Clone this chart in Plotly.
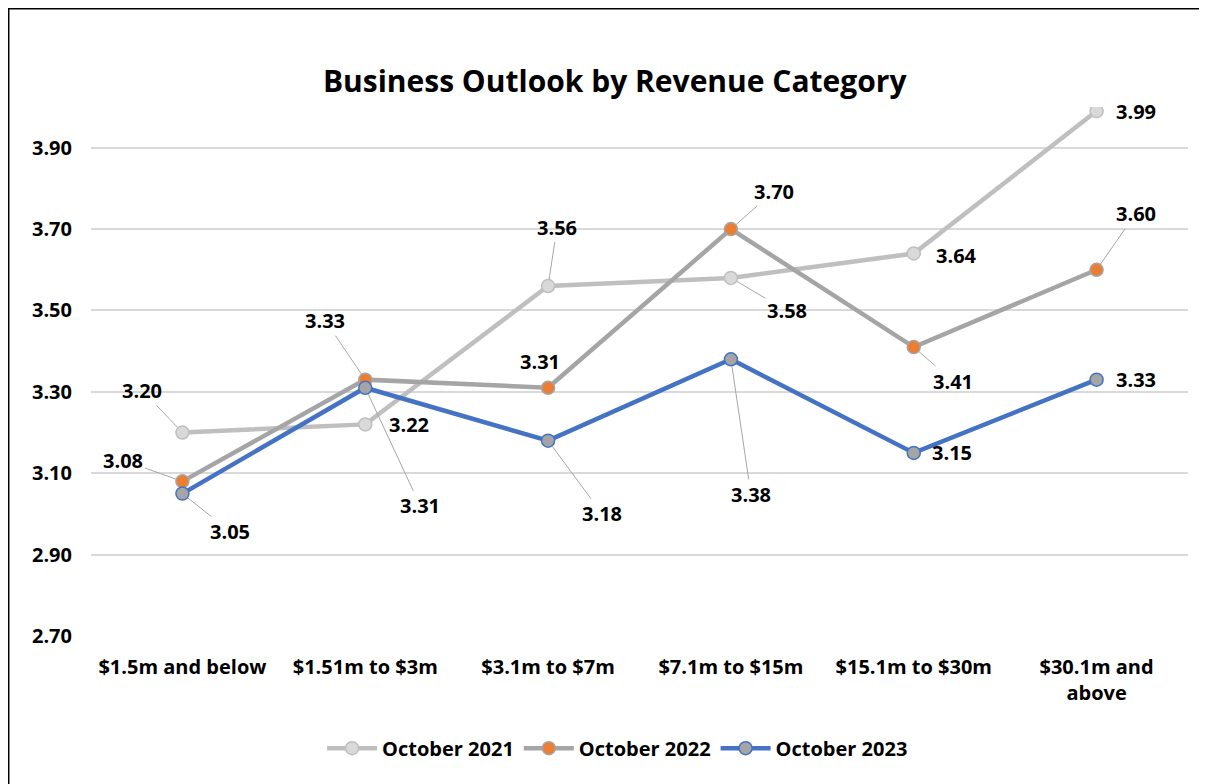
import plotly.graph_objects as go

# categorie e valori
categories = ["$1.5m and below", "$1.51m to $3m", "$3.1m to $7m",
              "$7.1m to $15m", "$15.1m to $30m", "$30.1m and<br>above"]
oct_2021 = [3.20, 3.22, 3.56, 3.58, 3.64, 3.99]
oct_2022 = [3.08, 3.33, 3.31, 3.70, 3.41, 3.60]
oct_2023 = [3.05, 3.31, 3.18, 3.38, 3.15, 3.33]
y_ticks = [2.70, 2.90, 3.10, 3.30, 3.50, 3.70, 3.90]

FONT = "Open Sans"

# stile di ogni serie: (nome, valori, colore linea, riempimento marker, bordo marker)
series = [
    ("October 2021", oct_2021, "#bfbfbf", "#d9d9d9", "#bfbfbf"),
    ("October 2022", oct_2022, "#a5a5a5", "#ed7d31", "#a5a5a5"),
    ("October 2023", oct_2023, "#4472c4", "#a5a5a5", "#4472c4"),
]

# spostamenti (px) delle etichette rispetto al punto, True = con linea guida
label_offsets = {
    "October 2021": [(-40, -42, True), (44, 0, False), (9, -59, True),
                     (56, 33, True), (43, 2, False), (39, 0, False)],
    "October 2022": [(-59, -21, True), (-40, -59, True), (-8, -26, False),
                     (43, -38, True), (39, 34, True), (39, -56, True)],
    "October 2023": [(48, 38, True), (55, 118, True), (54, 73, True),
                     (20, 135, True), (38, 0, False), (39, 0, False)],
}

bold = dict(family=FONT, size=20, color="black", weight="bold")

fig = go.Figure()
annotations = []
for name, vals, line_col, fill_col, edge_col in series:
    fig.add_trace(go.Scatter(
        x=categories, y=vals, name=name, mode="lines+markers",
        line=dict(color=line_col, width=4.5),
        marker=dict(size=13, color=fill_col, line=dict(color=edge_col, width=1.5)),
    ))
    for cat, v, (dx, dy, leader) in zip(categories, vals, label_offsets[name]):
        annotations.append(dict(
            x=cat, y=v, text=f"{v:.2f}", showarrow=True,
            ax=dx, ay=dy, axref="pixel", ayref="pixel",
            arrowhead=0, arrowwidth=1, standoff=7,
            arrowcolor="#a6a6a6" if leader else "rgba(0,0,0,0)",
            font=bold,
        ))

fig.update_layout(
    width=1199, height=776,
    paper_bgcolor="white", plot_bgcolor="white",
    margin=dict(l=83, r=19, t=99, b=148),
    title=dict(text="Business Outlook by Revenue Category",
               x=0.506, xanchor="center", y=0.905, yanchor="middle",
               font=dict(family=FONT, size=30, color="black", weight="bold")),
    font=dict(family=FONT, size=20, color="black"),
    showlegend=True,
    legend=dict(orientation="h", x=0.48, xanchor="center", y=-0.212, yanchor="middle",
                font=bold, itemwidth=50),
    annotations=annotations,
    shapes=[dict(type="rect", xref="paper", yref="paper",
                 x0=-0.075, x1=1.05, y0=1.1857, y1=-0.4,
                 line=dict(color="black", width=1.5), fillcolor="rgba(0,0,0,0)")],
)
fig.update_xaxes(type="category", range=[-0.5, 5.5], showgrid=False, zeroline=False,
                 showline=False, ticks="", ticklabelstandoff=17, tickfont=bold)
fig.update_yaxes(range=[2.7, 4.0], tickvals=y_ticks, tickformat=".2f",
                 showgrid=True, gridcolor="#d9d9d9", gridwidth=1.5, zeroline=False,
                 showline=False, ticks="", ticklabelstandoff=18, tickfont=bold)

fig.write_html("out.html")
